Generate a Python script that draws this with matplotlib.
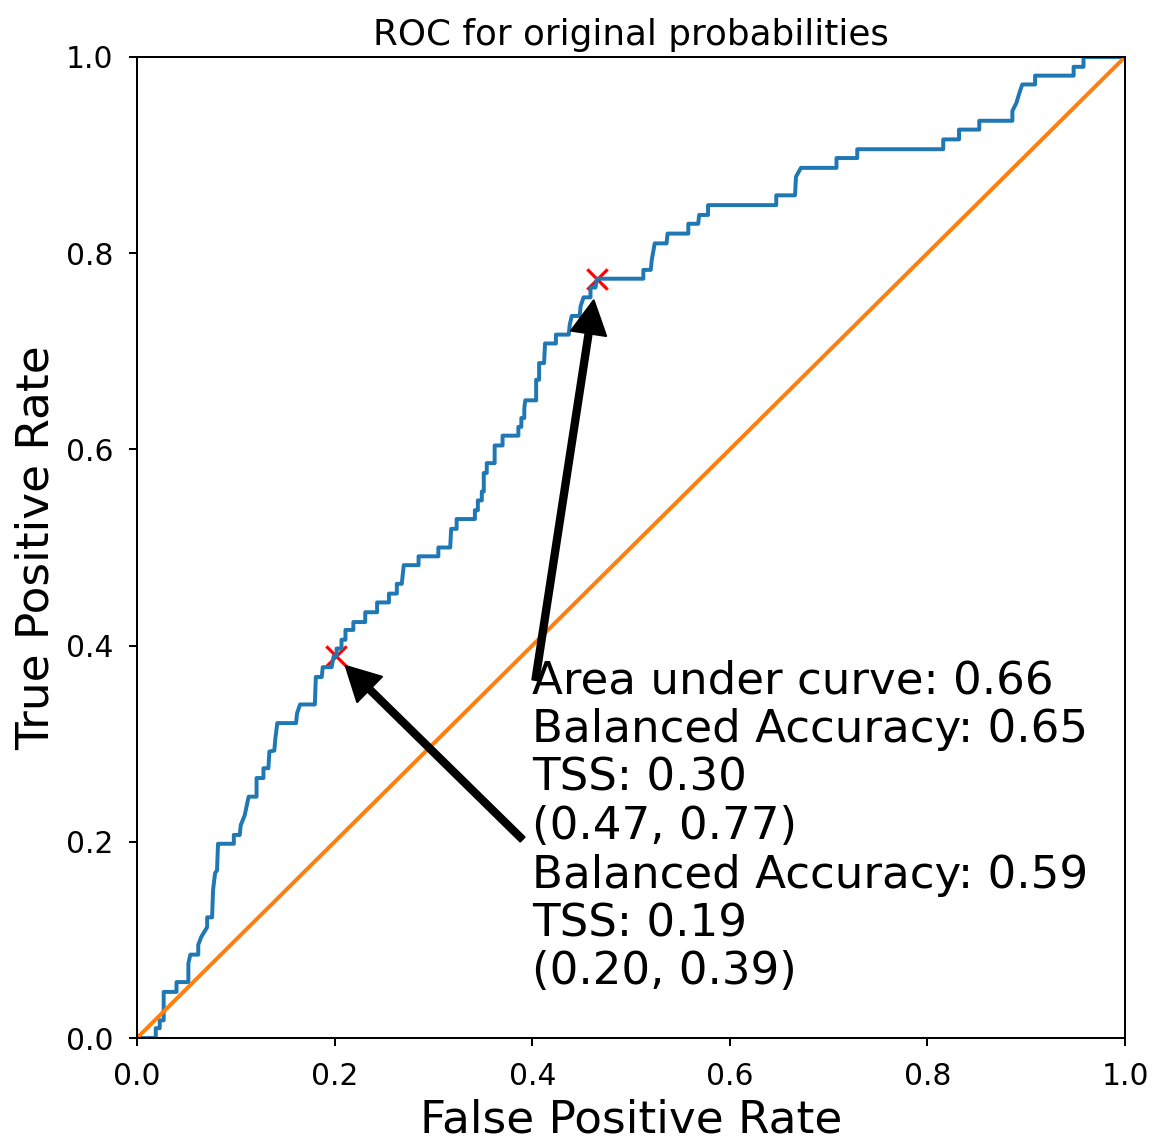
import numpy as np
import matplotlib
matplotlib.use('Agg')
import matplotlib.pyplot as plt

# ROC curve corner points
fpr = [0.000, 0.019, 0.019, 0.023, 0.023, 0.027, 0.027, 0.040, 0.040, 0.052,
       0.052, 0.054, 0.062, 0.062, 0.065, 0.071, 0.071, 0.076, 0.077, 0.079,
       0.081, 0.082, 0.098, 0.098, 0.104, 0.105, 0.109, 0.113, 0.121, 0.121,
       0.128, 0.128, 0.133, 0.134, 0.139, 0.140, 0.142, 0.161, 0.162, 0.165,
       0.180, 0.181, 0.187, 0.188, 0.197, 0.199, 0.202, 0.202, 0.207, 0.207,
       0.211, 0.211, 0.219, 0.219, 0.231, 0.231, 0.243, 0.243, 0.255, 0.255,
       0.263, 0.263, 0.268, 0.270, 0.285, 0.285, 0.305, 0.305, 0.317, 0.318,
       0.3235, 0.3235, 0.342, 0.342, 0.345, 0.345, 0.349, 0.349, 0.351, 0.351,
       0.354, 0.354, 0.362, 0.362, 0.370, 0.370, 0.386, 0.386, 0.389, 0.389,
       0.392, 0.392, 0.393, 0.404, 0.404, 0.407, 0.407, 0.412, 0.413, 0.424,
       0.424, 0.437, 0.438, 0.440, 0.448, 0.449, 0.452, 0.459, 0.459, 0.464,
       0.4655, 0.5125, 0.5125, 0.520, 0.521, 0.524, 0.536, 0.537, 0.558, 0.558,
       0.568, 0.569, 0.578, 0.578, 0.647, 0.647, 0.666, 0.667, 0.672, 0.708,
       0.708, 0.729, 0.729, 0.816, 0.816, 0.832, 0.832, 0.8525, 0.8525, 0.886,
       0.886, 0.890, 0.893, 0.896, 0.909, 0.909, 0.948, 0.948, 0.958, 0.958,
       1.000]
tpr = [0.000, 0.000, 0.010, 0.010, 0.018, 0.018, 0.047, 0.047, 0.057, 0.057,
       0.076, 0.085, 0.085, 0.095, 0.103, 0.113, 0.123, 0.123, 0.151, 0.168,
       0.171, 0.198, 0.198, 0.207, 0.207, 0.217, 0.227, 0.246, 0.246, 0.265,
       0.265, 0.275, 0.275, 0.292, 0.293, 0.305, 0.321, 0.321, 0.331, 0.340,
       0.340, 0.368, 0.368, 0.378, 0.378, 0.389, 0.389, 0.397, 0.397, 0.406,
       0.406, 0.416, 0.416, 0.424, 0.424, 0.434, 0.434, 0.444, 0.444, 0.453,
       0.453, 0.463, 0.463, 0.482, 0.482, 0.491, 0.491, 0.500, 0.500, 0.519,
       0.519, 0.529, 0.529, 0.538, 0.538, 0.548, 0.548, 0.557, 0.557, 0.576,
       0.576, 0.586, 0.586, 0.604, 0.604, 0.614, 0.614, 0.623, 0.623, 0.632,
       0.632, 0.642, 0.650, 0.650, 0.671, 0.671, 0.688, 0.688, 0.708, 0.708,
       0.717, 0.717, 0.727, 0.736, 0.736, 0.746, 0.755, 0.755, 0.765, 0.765,
       0.774, 0.774, 0.783, 0.783, 0.793, 0.810, 0.810, 0.820, 0.820, 0.830,
       0.830, 0.839, 0.839, 0.849, 0.849, 0.859, 0.859, 0.878, 0.887, 0.887,
       0.897, 0.897, 0.906, 0.906, 0.916, 0.916, 0.926, 0.926, 0.935, 0.935,
       0.945, 0.953, 0.963, 0.972, 0.972, 0.981, 0.981, 0.990, 0.990, 1.000,
       1.000]

# chance line
diag = [0.0, 1.0]

# the two operating points that get annotated
pt_fpr = [0.4655, 0.2014]
pt_tpr = [0.7734, 0.389]

auc_text = 'Area under curve: 0.66'
pt_texts = ['Balanced Accuracy: 0.65\nTSS: 0.30\n(0.47, 0.77)',
            'Balanced Accuracy: 0.59\nTSS: 0.19\n(0.20, 0.39)']

DPI = 150
fig = plt.figure(figsize=(1152 / DPI, 1141 / DPI), dpi=DPI)
ax = fig.add_axes([137 / 1152, 103 / 1141, 988 / 1152, 981 / 1141])

ax.plot(fpr, tpr, color='#1f77b4', lw=1.9)
ax.plot(diag, diag, color='#ff7f0e', lw=1.9)
ax.scatter(pt_fpr, pt_tpr, marker='x', color='red', s=95, linewidths=1.5, zorder=1)

# arrows from the text block to the points
arrow_start = [(0.4, 0.3435), (0.4, 0.1927)]
for x, y, start in zip(pt_fpr, pt_tpr, arrow_start):
    ax.annotate('', xy=(x, y), xytext=start,
                arrowprops=dict(facecolor='black', shrink=0.05,
                                width=3, headwidth=17, headlength=16))

ax.text(0.4, 0.3855, '\n'.join([auc_text] + pt_texts), va='top', ha='left',
        fontsize=21.7, linespacing=1.16)

ax.set_xlim(0, 1)
ax.set_ylim(0, 1)
ax.set_xticks([0.0, 0.2, 0.4, 0.6, 0.8, 1.0])
ax.set_yticks([0.0, 0.2, 0.4, 0.6, 0.8, 1.0])
ax.tick_params(labelsize=14.3, length=3.8, width=0.96, pad=7.5)
for s in ax.spines.values():
    s.set_linewidth(0.96)

ax.set_title('ROC for original probabilities', fontsize=17.2)
ax.set_xlabel('False Positive Rate', fontsize=21.8)
ax.set_ylabel('True Positive Rate', fontsize=21.8)

fig.savefig('out.png', dpi=DPI)
